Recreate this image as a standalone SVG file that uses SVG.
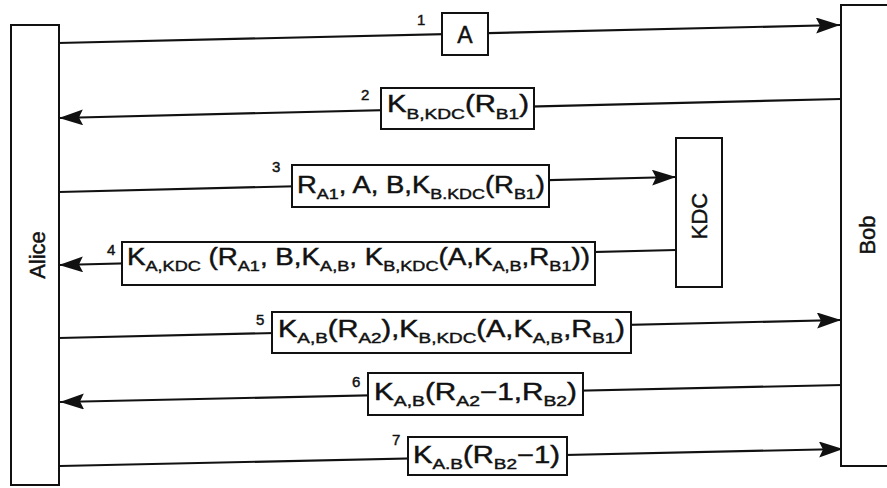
<svg xmlns="http://www.w3.org/2000/svg" width="887" height="488" viewBox="0 0 887 488">
<defs>
<style>
.box{fill:#fff;stroke:#111;stroke-width:2}
.ln{stroke:#111;stroke-width:2.2;fill:none}
.arr{marker-end:url(#ah)}
text{font-family:"Liberation Sans",Arial,sans-serif;fill:#111;stroke:#111;stroke-width:0.45}
.m{font-size:23px}
.s{font-size:15px}
.n{font-size:15px}
.lbl{font-size:22px;text-anchor:middle}
</style>
<marker id="ah" markerUnits="userSpaceOnUse" markerWidth="26" markerHeight="18" refX="24" refY="8" orient="auto">
<path d="M0,0 L24,8 L0,16 L4,8 Z" fill="#111"/>
</marker>
</defs>
<g id="connectors">
<line class="ln arr" x1="58" y1="43" x2="840" y2="25"/>
<line class="ln arr" x1="841" y1="99" x2="59" y2="118"/>
<line class="ln arr" x1="59" y1="192" x2="676" y2="177"/>
<line class="ln arr" x1="676" y1="250" x2="59" y2="265"/>
<line class="ln arr" x1="59" y1="338" x2="841" y2="320"/>
<line class="ln arr" x1="843" y1="385" x2="60" y2="402"/>
<line class="ln arr" x1="60" y1="466" x2="843" y2="449"/>
</g>
<g id="alice">
<rect class="box" x="11" y="25" width="48" height="460"/>
<text class="lbl" transform="rotate(-90 45 255)" x="45" y="255">Alice</text>
</g>
<g id="bob">
<rect class="box" x="841" y="5" width="60" height="461"/>
<text class="lbl" transform="rotate(-90 875 235)" x="875" y="235">Bob</text>
</g>
<g id="kdc">
<rect class="box" x="676" y="138" width="46" height="149"/>
<text class="lbl" transform="rotate(-90 707 216)" x="707" y="216">KDC</text>
</g>
<g id="msg1">
<text class="n" x="417" y="25">1</text>
<rect class="box" x="442" y="13" width="46" height="42"/>
<text class="m" x="465" y="43" text-anchor="middle">A</text>
</g>
<g id="msg2">
<text class="n" x="361" y="100">2</text>
<rect class="box" x="381" y="88" width="153" height="41"/>
<text class="m" x="387" y="112" textLength="142" lengthAdjust="spacingAndGlyphs">K<tspan class="s" dy="7">B,KDC</tspan><tspan dy="-7">(R</tspan><tspan class="s" dy="7">B1</tspan><tspan dy="-7">)</tspan></text>
</g>
<g id="msg3">
<text class="n" x="272" y="172">3</text>
<rect class="box" x="292" y="165" width="257" height="42"/>
<text class="m" x="297" y="193" textLength="248" lengthAdjust="spacingAndGlyphs">R<tspan class="s" dy="6">A1</tspan><tspan dy="-6">, A, B,K</tspan><tspan class="s" dy="6">B.KDC</tspan><tspan dy="-6">(R</tspan><tspan class="s" dy="6">B1</tspan><tspan dy="-6">)</tspan></text>
</g>
<g id="msg4">
<text class="n" x="107" y="255">4</text>
<rect class="box" x="122" y="242" width="473" height="43"/>
<text class="m" x="127" y="265" textLength="463" lengthAdjust="spacingAndGlyphs">K<tspan class="s" dy="6">A,KDC</tspan><tspan dy="-6"> (R</tspan><tspan class="s" dy="6">A1</tspan><tspan dy="-6">, B,K</tspan><tspan class="s" dy="6">A,B</tspan><tspan dy="-6">, K</tspan><tspan class="s" dy="6">B,KDC</tspan><tspan dy="-6">(A,K</tspan><tspan class="s" dy="6">A,B</tspan><tspan dy="-6">,R</tspan><tspan class="s" dy="6">B1</tspan><tspan dy="-6">))</tspan></text>
</g>
<g id="msg5">
<text class="n" x="256" y="325">5</text>
<rect class="box" x="272" y="312" width="359" height="41"/>
<text class="m" x="278" y="337" textLength="347" lengthAdjust="spacingAndGlyphs">K<tspan class="s" dy="6">A,B</tspan><tspan dy="-6">(R</tspan><tspan class="s" dy="6">A2</tspan><tspan dy="-6">),K</tspan><tspan class="s" dy="6">B,KDC</tspan><tspan dy="-6">(A,K</tspan><tspan class="s" dy="6">A,B</tspan><tspan dy="-6">,R</tspan><tspan class="s" dy="6">B1</tspan><tspan dy="-6">)</tspan></text>
</g>
<g id="msg6">
<text class="n" x="352" y="387">6</text>
<rect class="box" x="368" y="373" width="215" height="42"/>
<text class="m" x="374" y="400" textLength="203" lengthAdjust="spacingAndGlyphs">K<tspan class="s" dy="6">A,B</tspan><tspan dy="-6">(R</tspan><tspan class="s" dy="6">A2</tspan><tspan dy="-6">−1,R</tspan><tspan class="s" dy="6">B2</tspan><tspan dy="-6">)</tspan></text>
</g>
<g id="msg7">
<text class="n" x="392" y="445">7</text>
<rect class="box" x="408" y="437" width="159" height="38"/>
<text class="m" x="413" y="463" textLength="147" lengthAdjust="spacingAndGlyphs">K<tspan class="s" dy="6">A.B</tspan><tspan dy="-6">(R</tspan><tspan class="s" dy="6">B2</tspan><tspan dy="-6">−1)</tspan></text>
</g>
</svg>
